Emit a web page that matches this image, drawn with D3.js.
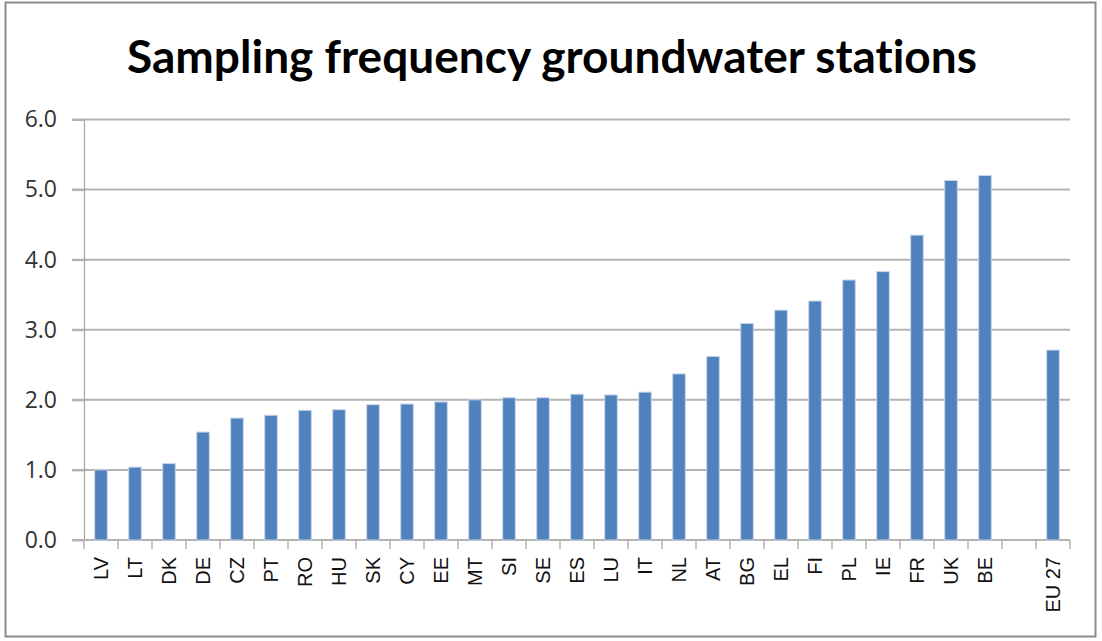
<!DOCTYPE html>
<html><head><meta charset="utf-8">
<script src="https://cdn.jsdelivr.net/npm/d3@7"></script>
<style>body{margin:0;background:#fff} text{font-variant-ligatures:none}</style>
</head><body>
<svg id="c" width="1102" height="641"></svg>
<script>
const categories = ["LV","LT","DK","DE","CZ","PT","RO","HU","SK","CY","EE","MT","SI","SE","ES","LU","IT","NL","AT","BG","EL","FI","PL","IE","FR","UK","BE","","EU 27"];
const values = [1.00,1.04,1.09,1.54,1.74,1.78,1.85,1.86,1.93,1.94,1.97,2.00,2.03,2.03,2.08,2.07,2.11,2.37,2.62,3.09,3.28,3.41,3.71,3.83,4.35,5.13,5.20,null,2.71];
const yTicks = [0,1,2,3,4,5,6];
const title = "Sampling frequency groundwater stations";

const svg = d3.select("#c");
svg.append("rect").attr("x",5.5).attr("y",2.5).attr("width",1090).attr("height",634)
  .attr("fill","#fff").attr("stroke","#8c8c8c").attr("stroke-width",2);

const L=84, R=1070, T=119.5, B=540;
const x = d3.scaleBand().domain(categories.map((c,i)=>i)).range([L,R]).paddingInner(0.63).paddingOuter(0.315);
const y = d3.scaleLinear().domain([0,6]).range([B,T]);

// gridlines
svg.append("g").selectAll("line").data(yTicks.filter(d=>d>0)).join("line")
  .attr("x1",72).attr("x2",R).attr("y1",d=>y(d)).attr("y2",d=>y(d))
  .attr("stroke","#b3b3b3").attr("stroke-width",2);

// y axis
const ya = svg.append("g").attr("transform",`translate(${L},0)`)
  .call(d3.axisLeft(y).tickValues(yTicks).tickFormat(d3.format(".1f")).tickSize(12).tickPadding(15));
ya.select(".domain").attr("stroke","#a6a6a6").attr("stroke-width",1.2);
ya.selectAll(".tick line").attr("stroke","#b3b3b3").attr("stroke-width",2);
ya.selectAll("text").attr("font-family","Open Sans, DejaVu Sans, sans-serif").attr("font-size",23).attr("fill","#333");

// x axis
const step = (R-L)/categories.length;
const xa = svg.append("g");
xa.append("line").attr("x1",72).attr("x2",R).attr("y1",B).attr("y2",B).attr("stroke","#b3b3b3").attr("stroke-width",2);
xa.selectAll("line.t").data(d3.range(categories.length+1)).join("line").attr("class","t")
  .attr("x1",i=>L+i*step).attr("x2",i=>L+i*step).attr("y1",B).attr("y2",B+9)
  .attr("stroke","#b3b3b3").attr("stroke-width",1.5);
xa.selectAll("text").data(categories).join("text")
  .attr("transform",(d,i)=>`translate(${x(i)+x.bandwidth()/2+7},${B+17}) rotate(-90)`)
  .attr("text-anchor","end").attr("font-family","Liberation Sans, Arial, sans-serif")
  .attr("font-size",20).attr("fill","#111").text(d=>d);

// bars
svg.append("g").selectAll("rect").data(values.map((v,i)=>({v,i})).filter(d=>d.v!=null)).join("rect")
  .attr("x",d=>x(d.i)).attr("width",x.bandwidth())
  .attr("y",d=>y(d.v)).attr("height",d=>B-y(d.v))
  .attr("fill","#4f81bd").attr("stroke","#c6d5ea").attr("stroke-width",1);

// title
svg.append("text").attr("x",552).attr("y",73).attr("text-anchor","middle")
  .attr("font-family","Lato, Open Sans, sans-serif").attr("font-weight","bold").attr("font-size",45)
  .attr("textLength",850).attr("lengthAdjust","spacingAndGlyphs")
  .attr("fill","#000").text(title);
</script>
</body></html>
